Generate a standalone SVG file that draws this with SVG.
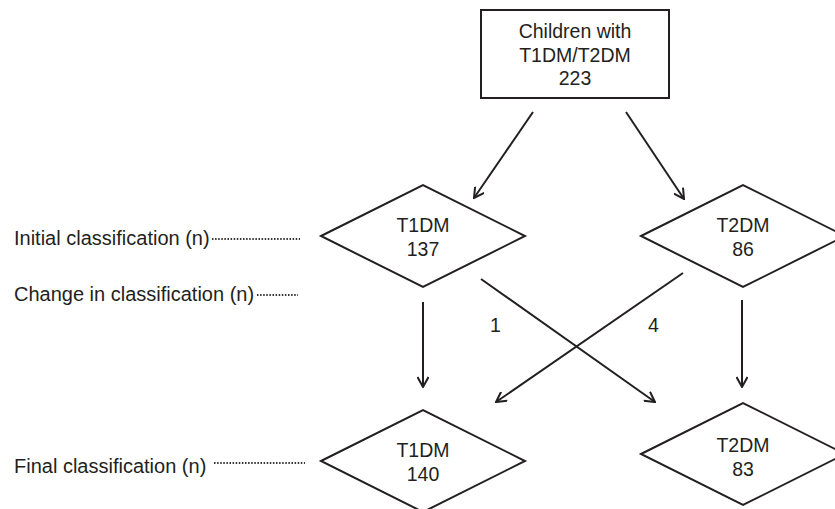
<svg xmlns="http://www.w3.org/2000/svg" width="835" height="509" viewBox="0 0 835 509">
<style>
text{font-family:"Liberation Sans",Arial,sans-serif;font-size:19.5px;fill:#231f20}
text.lab{font-size:20px}
.c{text-anchor:middle}
.shape{fill:#fff;stroke:#231f20;stroke-width:2}
.conn{stroke:#231f20;stroke-width:2;fill:none}
.dot{stroke:#333;stroke-width:1.8;stroke-dasharray:1.5 1.6;fill:none}
</style>
<defs>
<marker id="ah" viewBox="0 0 12 12" refX="11" refY="6" markerWidth="12" markerHeight="12" markerUnits="userSpaceOnUse" orient="auto">
<path d="M1,0.5 L11,6 L1,11.5" fill="none" stroke="#231f20" stroke-width="2"/>
</marker>
</defs>
<rect width="835" height="509" fill="#fff"/>
<g id="labels">
<text class="lab" x="14" y="245">Initial classification (n)</text>
<line class="dot" x1="212" y1="239" x2="300" y2="239"/>
<text class="lab" x="14" y="301">Change in classification (n)</text>
<line class="dot" x1="257" y1="295" x2="298" y2="295"/>
<text class="lab" x="14" y="473">Final classification (n)</text>
<line class="dot" x1="214" y1="463" x2="305" y2="463"/>
</g>
<g id="root">
<rect class="shape" x="481" y="10" width="188" height="88"/>
<text class="c" x="575" y="38">Children with</text>
<text class="c" x="575" y="62">T1DM/T2DM</text>
<text class="c" x="575" y="85">223</text>
</g>
<g id="t1dm-initial">
<polygon class="shape" points="321,236 423,185 525,236 423,287"/>
<text class="c" x="423" y="232">T1DM</text>
<text class="c" x="423" y="256">137</text>
</g>
<g id="t2dm-initial">
<polygon class="shape" points="641,236 743,185 845,236 743,287"/>
<text class="c" x="743" y="232">T2DM</text>
<text class="c" x="743" y="256">86</text>
</g>
<g id="t1dm-final">
<polygon class="shape" points="321,461 423,410 525,461 423,512"/>
<text class="c" x="423" y="457">T1DM</text>
<text class="c" x="423" y="481">140</text>
</g>
<g id="t2dm-final">
<polygon class="shape" points="641,454 743,403 845,454 743,505"/>
<text class="c" x="743" y="452">T2DM</text>
<text class="c" x="743" y="476">83</text>
</g>
<g id="connectors">
<line class="conn" x1="533" y1="112" x2="474" y2="198" marker-end="url(#ah)"/>
<line class="conn" x1="626" y1="112" x2="684" y2="199" marker-end="url(#ah)"/>
<line class="conn" x1="423" y1="302" x2="423" y2="387" marker-end="url(#ah)"/>
<line class="conn" x1="742" y1="300" x2="742" y2="387" marker-end="url(#ah)"/>
<line class="conn" x1="481" y1="279" x2="655" y2="402" marker-end="url(#ah)"/>
<line class="conn" x1="683" y1="273" x2="496" y2="402" marker-end="url(#ah)"/>
<text x="490" y="332">1</text>
<text x="648" y="332">4</text>
</g>
</svg>
